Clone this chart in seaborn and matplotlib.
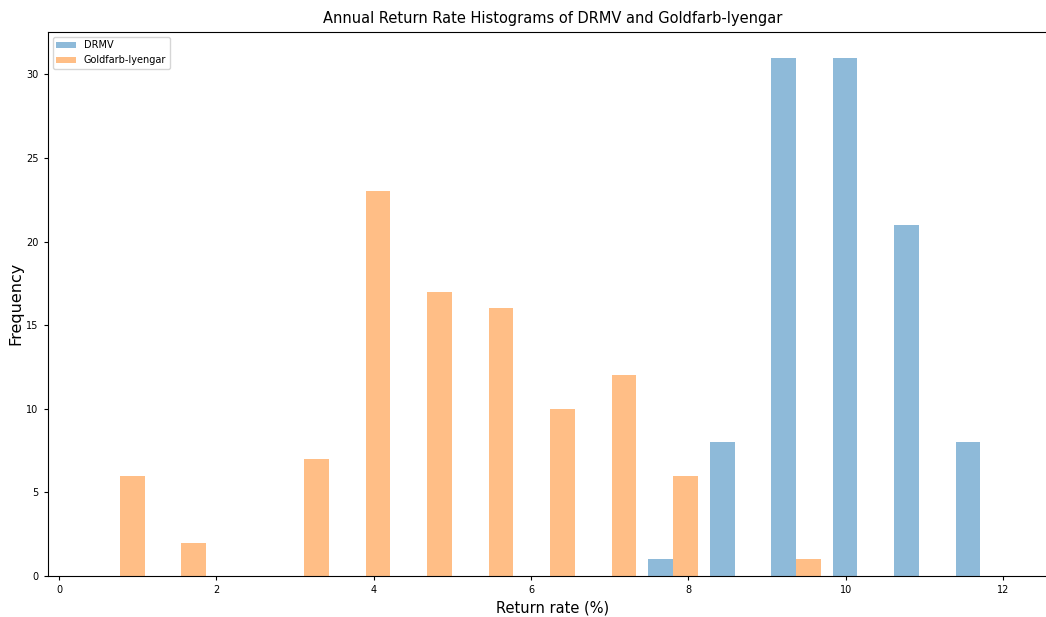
import numpy as np
import pandas as pd
import matplotlib
matplotlib.use("Agg")
import matplotlib.pyplot as plt
from matplotlib.patches import Patch
import seaborn as sns

# ---- data ----
bin_lo = 0.384
bin_hi = 12.102
n_bins = 15
series_names = ["DRMV", "Goldfarb-Iyengar"]
drmv_counts = [0, 0, 0, 0, 0, 0, 0, 0, 0, 1, 8, 31, 31, 21, 8]
gi_counts = [6, 2, 0, 7, 23, 17, 16, 10, 12, 6, 0, 1, 0, 0, 0]
colors = ["#1f77b4", "#ff7f0e"]
x_ticks = [0, 2, 4, 6, 8, 10, 12]
y_ticks = [0, 5, 10, 15, 20, 25, 30]

edges = np.linspace(bin_lo, bin_hi, n_bins + 1)
centers = (edges[:-1] + edges[1:]) / 2

rows = []
for name, counts in zip(series_names, [drmv_counts, gi_counts]):
    for c, n in zip(centers, counts):
        if n > 0:
            rows.append({"rate": c, "count": n, "series": name})
df = pd.DataFrame(rows)

fig = plt.figure(figsize=(10.46, 6.17), dpi=100)
ax = fig.add_axes([0.0456, 0.0665, 0.966, 0.8821])

sns.histplot(data=df, x="rate", weights="count", hue="series",
             hue_order=series_names, palette=colors, bins=edges.tolist(),
             multiple="dodge", shrink=0.8, alpha=0.5, linewidth=0,
             legend=False, ax=ax)

ax.set_xlim(-0.144, 12.7)
ax.set_ylim(0, 32.55)
ax.set_xticks(x_ticks)
ax.set_yticks(y_ticks)
ax.tick_params(labelsize=7, length=3, width=0.8)
ax.set_xlabel("Return rate (%)", fontsize=10.5)
ax.set_ylabel("Frequency", fontsize=11.5, labelpad=2)
ax.set_title("Annual Return Rate Histograms of DRMV and Goldfarb-Iyengar", fontsize=10.5)

handles = [Patch(facecolor=c, alpha=0.5, edgecolor="none") for c in colors]
ax.legend(handles, series_names, loc="upper left", fontsize=7)

fig.savefig("out.png", dpi=100)
